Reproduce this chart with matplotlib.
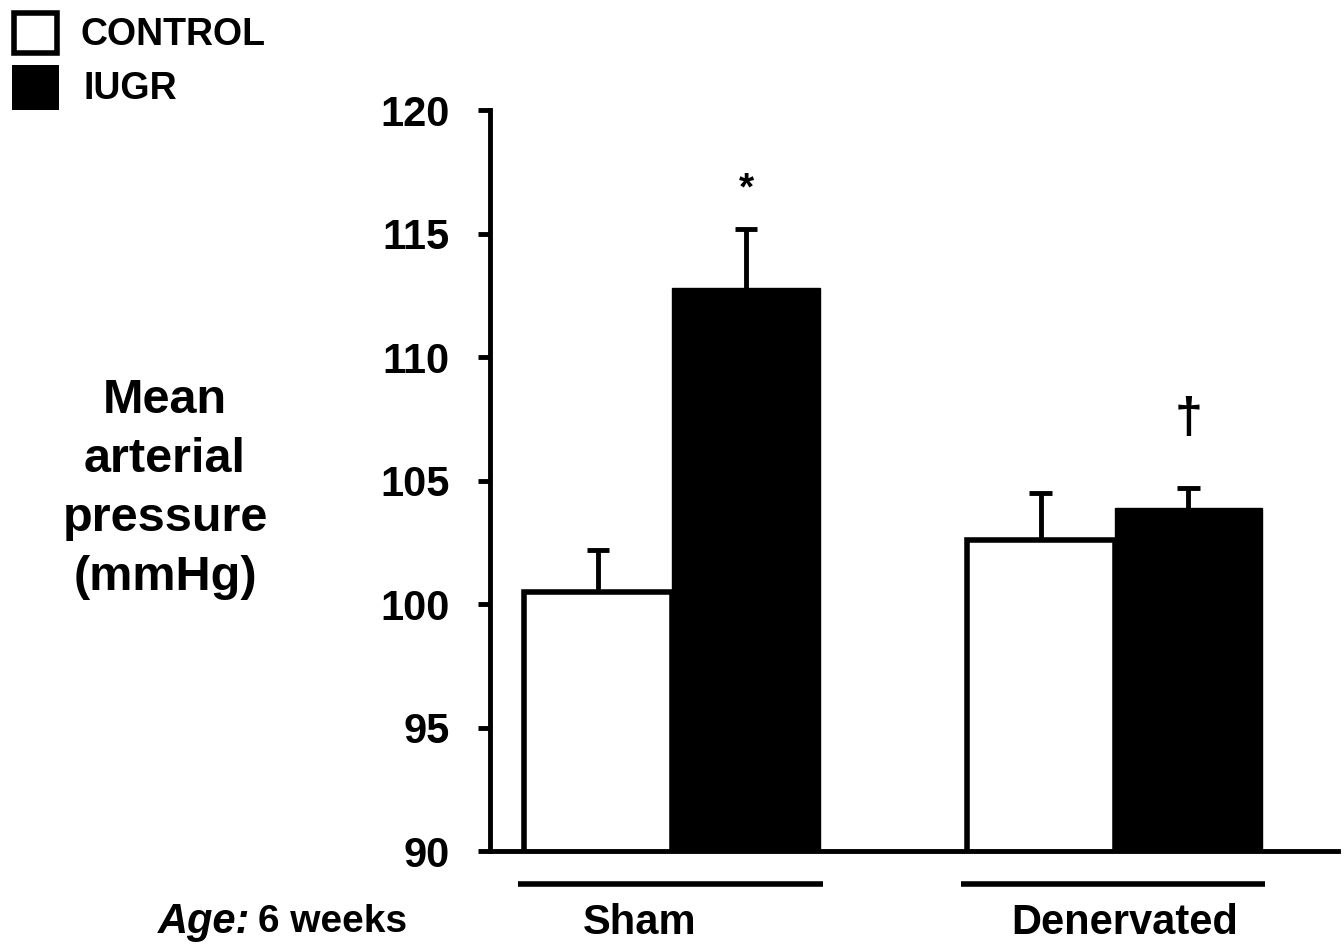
import matplotlib.pyplot as plt
from matplotlib.patches import Rectangle
from matplotlib.transforms import blended_transform_factory

plt.rcParams['font.family'] = ['Liberation Sans', 'DejaVu Sans']
plt.rcParams['font.weight'] = 'bold'

groups = ['Sham', 'Denervated']
group_pos = [0.0, 2.99]
control_mean = [100.5, 102.6]
control_err = [1.7, 1.9]
iugr_mean = [112.8, 103.9]
iugr_err = [2.4, 0.8]
yticks = [90, 95, 100, 105, 110, 115, 120]

fig = plt.figure(figsize=(13.44, 9.46), dpi=100)
ax = fig.add_axes([0.3646, 0.1004, 0.6309, 0.7833])

w = 1.0
xc = [g - w / 2 for g in group_pos]
xi = [g + w / 2 for g in group_pos]
cap = 0.075

# one-sided (upward) error bars
for xs, ms, es in [(xc, control_mean, control_err), (xi, iugr_mean, iugr_err)]:
    tops = [m + e for m, e in zip(ms, es)]
    ax.vlines(xs, ms, tops, color='black', lw=3.5, zorder=1)
    ax.hlines(tops, [x - cap for x in xs], [x + cap for x in xs], color='black', lw=3.5, zorder=1)

ax.bar(xc, control_mean, width=w, color='white', edgecolor='black', linewidth=4, zorder=2)
ax.bar(xi, iugr_mean, width=w, color='black', edgecolor='black', linewidth=1, zorder=2)

# significance marks
ax.text(xi[0], iugr_mean[0] + iugr_err[0] + 1.6, '*', ha='center', va='center',
        fontsize=28, fontweight='bold')
ax.text(xi[1], iugr_mean[1] + iugr_err[1] + 2.8, '\u2020', ha='center', va='center',
        fontsize=36, fontweight='bold')

ax.set_xlim(-1.23, 4.5)
ax.set_ylim(90, 120)
ax.set_yticks(yticks)
ax.set_yticklabels([str(t) for t in yticks], fontsize=30, fontweight='bold')
ax.set_xticks([])
for side in ['top', 'right']:
    ax.spines[side].set_visible(False)
for side in ['left', 'bottom']:
    ax.spines[side].set_linewidth(3.5)
ax.tick_params(axis='y', direction='out', length=9, width=3.5, pad=20)

# group underlines and labels
tr = blended_transform_factory(ax.transData, ax.transAxes)
for g, name in zip(group_pos, groups):
    ax.plot([g - 1.04, g + 1.02], [-0.044, -0.044], color='black', lw=4,
            transform=tr, clip_on=False, solid_capstyle='butt')
    ax.text(g - 0.22 if name == 'Sham' else g + 0.07, -0.097, name, transform=tr,
            ha='center', va='center', fontsize=30, fontweight='bold')

fig.text(250 / 1344, 1 - 922 / 946, 'Age:', ha='right', va='center', fontsize=30,
         fontweight='bold', fontstyle='italic')
fig.text(258 / 1344, 1 - 922 / 946, '6 weeks', ha='left', va='center', fontsize=28,
         fontweight='bold')

fig.text(165 / 1344, 1 - 489 / 946, 'Mean\narterial\npressure\n(mmHg)', ha='center',
         va='center', fontsize=35, fontweight='bold', linespacing=1.4)

# legend
fig.patches.append(Rectangle((14 / 1344, 1 - 53 / 946), 43 / 1344, 40 / 946,
                             transform=fig.transFigure, facecolor='white',
                             edgecolor='black', linewidth=4))
fig.patches.append(Rectangle((12 / 1344, 1 - 110 / 946), 47 / 1344, 45 / 946,
                             transform=fig.transFigure, facecolor='black',
                             edgecolor='black', linewidth=0))
fig.text(80 / 1344, 1 - 35 / 946, 'CONTROL', ha='left', va='center', fontsize=27,
         fontweight='bold')
fig.text(83 / 1344, 1 - 89 / 946, 'IUGR', ha='left', va='center', fontsize=27,
         fontweight='bold')

fig.savefig('out.png', dpi=100)
